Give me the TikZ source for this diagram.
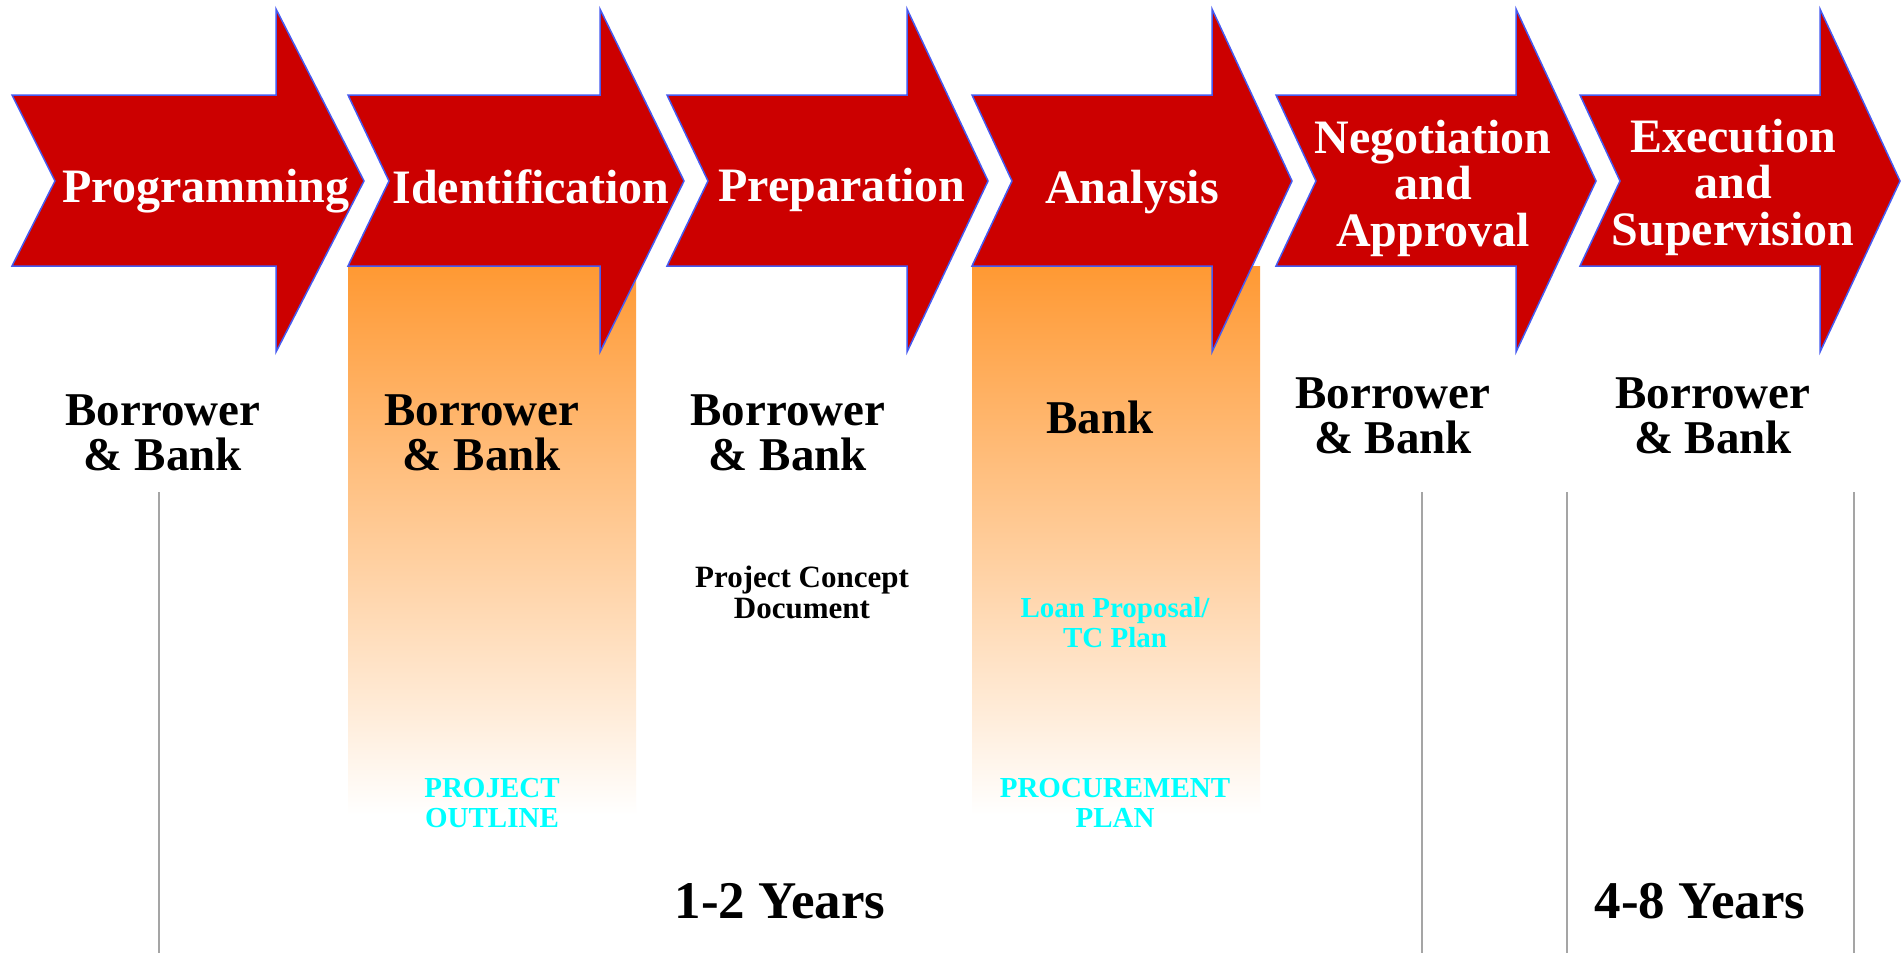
\documentclass[tikz,border=0pt]{standalone}
\usepackage{fontspec}
\setmainfont{Liberation Serif}
\definecolor{arrowred}{RGB}{204,0,0}
\definecolor{arrowedge}{RGB}{70,90,240}
\definecolor{bandorange}{RGB}{255,153,51}
\definecolor{yearline}{RGB}{165,165,165}
\definecolor{doccyan}{RGB}{0,255,255}
\newcommand{\procarrow}[4]{%
  \path[arrowshape] (#1,95) -- (#3,95) -- (#3,9) -- (#4,181) -- (#3,352) -- (#3,266) -- (#1,266) -- (#2,181) -- cycle;}
\begin{document}
\begin{tikzpicture}[x=1pt,y=-1pt,
  arrowshape/.style={fill=arrowred, draw=arrowedge, line width=1.5pt, line join=miter},
  band/.style={top color=bandorange, bottom color=white},
  divider/.style={draw=yearline, line width=2pt},
  title/.style={anchor=base, inner sep=0pt, text=white, align=center, font=\fontsize{48}{46.5}\selectfont\bfseries},
  party/.style={anchor=base, inner sep=0pt, text=black, align=center, font=\fontsize{47}{45}\selectfont\bfseries},
  docblack/.style={anchor=base, inner sep=0pt, text=black, align=center, font=\fontsize{31}{31}\selectfont\bfseries},
  doccyanstyle/.style={anchor=base, inner sep=0pt, text=doccyan, align=center, font=\fontsize{29}{29.5}\selectfont\bfseries},
  years/.style={anchor=base, inner sep=0pt, text=black, font=\fontsize{53}{53}\selectfont\bfseries}]
\fill[white] (0,0) rectangle (1902,953);
\useasboundingbox (0,0) rectangle (1902,953);
% gradient bands
\shade[band] (348,266) rectangle (636,815);
\shade[band] (972,266) rectangle (1260,815);
% period dividers
\coordinate (d1t) at (159,492); \coordinate (d1b) at (159,953);
\coordinate (d2t) at (1422,492); \coordinate (d2b) at (1422,953);
\coordinate (d3t) at (1567,492); \coordinate (d3b) at (1567,953);
\coordinate (d4t) at (1854,492); \coordinate (d4b) at (1854,953);
\draw[divider] (d1t) -- (d1b);
\draw[divider] (d2t) -- (d2b);
\draw[divider] (d3t) -- (d3b);
\draw[divider] (d4t) -- (d4b);
% chevron arrows
\procarrow{12}{55}{276}{364}
\procarrow{348}{389}{600}{684}
\procarrow{667}{708}{907}{988}
\procarrow{972}{1012}{1212}{1292}
\procarrow{1276}{1316}{1516}{1596}
\procarrow{1580}{1620}{1820}{1900}
% titles (base = last line's baseline)
\node[title] (t1) at (206,202) {Programming};
\node[title] (t2) at (531,203) {Identification};
\node[title] (t3) at (842,201) {Preparation};
\node[title] (t4) at (1132,203) {Analysis};
\node[title] (t5) at (1433,246) {Negotiation\\and\\Approval};
\node[title] (t6) at (1733,245) {Execution\\and\\Supervision};
% responsible parties
\node[party] (p1) at (163,470) {Borrower\\\& Bank};
\node[party] (p2) at (482,470) {Borrower\\\& Bank};
\node[party] (p3) at (788,470) {Borrower\\\& Bank};
\node[party] (p4) at (1100,433) {Bank};
\node[party] (p5) at (1393,453) {Borrower\\\& Bank};
\node[party] (p6) at (1713,453) {Borrower\\\& Bank};
% documents
\node[docblack] (pcd) at (802,618) {Project Concept\\Document};
\node[doccyanstyle] (lp) at (1115,647) {Loan Proposal/\\TC Plan};
\node[doccyanstyle] (po) at (492,827) {PROJECT\\OUTLINE};
\node[doccyanstyle] (pp) at (1115,827) {PROCUREMENT\\PLAN};
% durations
\node[years] (y1) at (780,918) {1-2 Years};
\node[years] (y2) at (1700,918) {4-8 Years};
\end{tikzpicture}
\end{document}
